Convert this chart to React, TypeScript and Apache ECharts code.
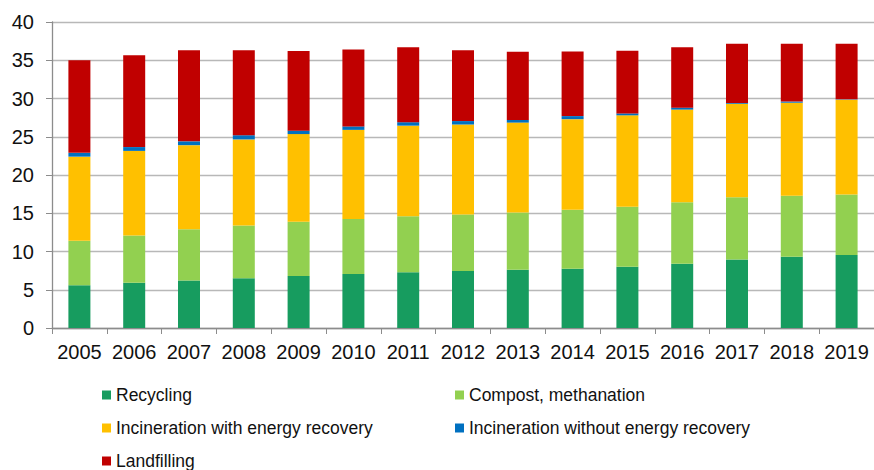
import React, { useEffect, useRef } from "react";
import * as echarts from "echarts";

const years = ["2005","2006","2007","2008","2009","2010","2011","2012","2013","2014","2015","2016","2017","2018","2019"];
const recycling = [5.6, 5.9, 6.2, 6.5, 6.8, 7.05, 7.3, 7.45, 7.6, 7.75, 8.0, 8.4, 8.95, 9.3, 9.55];
const compost = [5.8, 6.2, 6.7, 6.9, 7.1, 7.2, 7.3, 7.4, 7.5, 7.7, 7.85, 8.05, 8.15, 8.0, 7.9];
const incinEnergy = [11.0, 11.05, 11.0, 11.25, 11.45, 11.65, 11.85, 11.75, 11.75, 11.85, 11.95, 12.1, 12.2, 12.15, 12.4];
const incinNoEnergy = [0.5, 0.5, 0.5, 0.55, 0.45, 0.45, 0.45, 0.45, 0.35, 0.4, 0.25, 0.25, 0.1, 0.15, 0.05];
const landfilling = [12.1, 12.0, 11.9, 11.1, 10.4, 10.05, 9.8, 9.25, 8.9, 8.45, 8.2, 7.9, 7.75, 7.55, 7.25];
const yTicks = { min: 0, max: 40, interval: 5 };

const seriesDefs = [
  { name: "Recycling", data: recycling, color: "#179C5F" },
  { name: "Compost, methanation", data: compost, color: "#92D050" },
  { name: "Incineration with energy recovery", data: incinEnergy, color: "#FFC000" },
  { name: "Incineration without energy recovery", data: incinNoEnergy, color: "#0070C0" },
  { name: "Landfilling", data: landfilling, color: "#C00000" },
];

const FONT = "'Liberation Sans', Arial, sans-serif";

export default function App() {
  const ref = useRef<HTMLDivElement>(null);
  useEffect(() => {
    if (!ref.current) return;
    const chart = echarts.init(ref.current, undefined, { renderer: "svg" });
    const legendCommon = {
      orient: "vertical" as const,
      icon: "rect",
      itemWidth: 9,
      itemHeight: 9,
      itemGap: 13,
      height: 120,
      padding: 0,
      textStyle: { fontFamily: FONT, fontSize: 17.5, color: "#111", lineHeight: 20 },
      selectedMode: false,
    };
    chart.setOption({
      animation: false,
      grid: { left: 52, top: 22, width: 825, height: 306 },
      legend: [
        { ...legendCommon, left: 102, top: 385, data: ["Recycling", "Incineration with energy recovery", "Landfilling"] },
        { ...legendCommon, left: 455, top: 385, data: ["Compost, methanation", "Incineration without energy recovery"] },
      ],
      xAxis: {
        type: "category",
        data: years,
        axisLine: { lineStyle: { color: "#8C8C8C", width: 1.3 } },
        axisTick: { show: true, length: 6, lineStyle: { color: "#8C8C8C" } },
        axisLabel: { fontFamily: FONT, fontSize: 20, color: "#111", margin: 14, interval: 0, hideOverlap: false },
      },
      yAxis: {
        type: "value",
        min: yTicks.min,
        max: yTicks.max,
        interval: yTicks.interval,
        axisLine: { show: true, lineStyle: { color: "#8C8C8C", width: 1.3 } },
        axisTick: { show: true, length: 6, lineStyle: { color: "#8C8C8C" } },
        axisLabel: { fontFamily: FONT, fontSize: 20, color: "#111", margin: 18 },
        splitLine: { lineStyle: { color: "#B8B8B8", width: 1.3 } },
      },
      series: seriesDefs.map((s) => ({
        name: s.name,
        type: "bar",
        stack: "total",
        data: s.data,
        barWidth: 22,
        itemStyle: { color: s.color },
      })),
    });
    return () => chart.dispose();
  }, []);
  return <div ref={ref} style={{ position: "absolute", left: 0, top: 0, width: 874, height: 470 }} />;
}
